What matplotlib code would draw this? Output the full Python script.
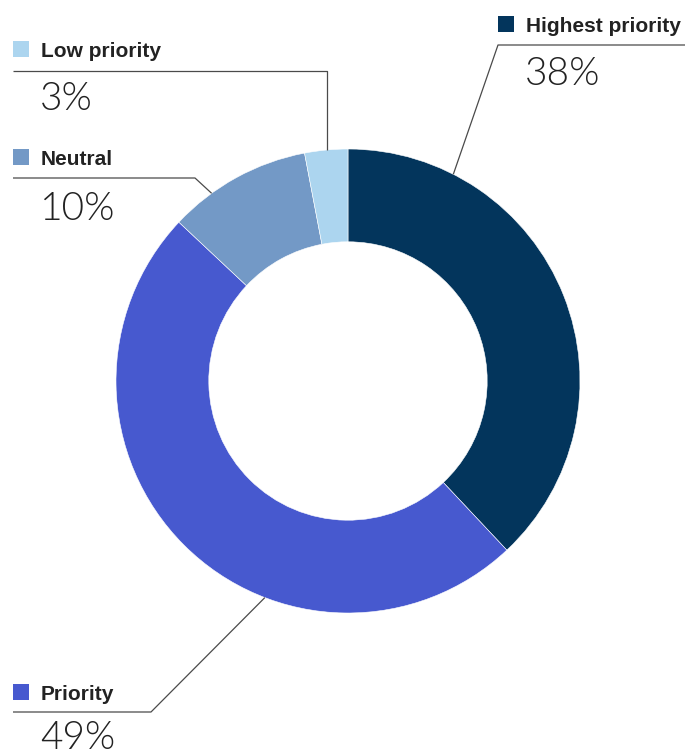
import numpy as np
import matplotlib
matplotlib.use("Agg")
import matplotlib.pyplot as plt

# data
labels = ["Highest priority", "Priority", "Neutral", "Low priority"]
values = [38, 49, 10, 3]
colors = ["#03355c", "#4759cf", "#7399c6", "#acd5ef"]

W, H = 699, 754
fig = plt.figure(figsize=(W / 100, H / 100), dpi=100)
ax = fig.add_axes([0, 0, 1, 1])

cx, cy, R = 348, H - 381, 232
ax.pie(values, colors=colors, startangle=90, counterclock=False,
       center=(cx, cy), radius=R, frame=True,
       wedgeprops=dict(width=R * 0.4, edgecolor="white", linewidth=0.4))
ax.set_xlim(0, W)
ax.set_ylim(0, H)
ax.set_aspect("equal")
ax.axis("off")

# label layout: square x, title baseline y, line y, corner x, line end x, anchor angle, pct baseline y
layout = {
    "Highest priority": (498, 32, 45, 498, 685, 63, 85),
    "Low priority": (13, 57, 71, 327, 13, 95, 110),
    "Neutral": (13, 165, 178, 195, 13, 126, 220),
    "Priority": (13, 700, 712, 151, 13, 249, 749),
}

txt = "#222222"
for lab, val, col in zip(labels, values, colors):
    sx, ty, ly, c, lx, ang, py = layout[lab]
    # square marker
    ax.add_patch(plt.Rectangle((sx, H - ty), 16, 16, color=col, lw=0))
    ax.text(sx + 28, H - ty, lab, fontsize=15, fontweight="bold", color=txt,
            family=["Liberation Sans", "DejaVu Sans"], va="baseline", ha="left")
    ax.text(sx + 27, H - py, f"{val}%", fontsize=28, fontweight=300, color=txt,
            family=["Lato", "DejaVu Sans"], va="baseline", ha="left")
    # leader line
    a = np.deg2rad(ang)
    ex, ey = cx + R * np.cos(a), cy + R * np.sin(a)
    if lab == "Low priority":
        ex = c
    ax.plot([lx, c, ex], [H - ly, H - ly, ey], color="#4a4a4a", lw=0.9,
            solid_capstyle="butt")

fig.savefig("out.png", dpi=100)
